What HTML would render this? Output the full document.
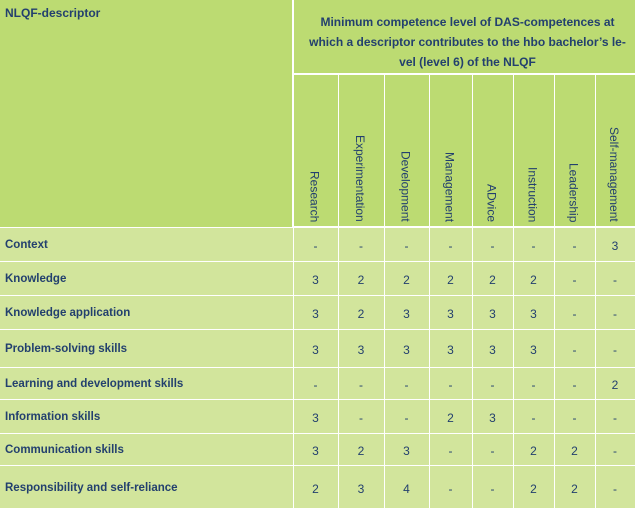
<!DOCTYPE html>
<html><head><style>
body{margin:0;width:635px;height:508px;background:#fff;position:relative;overflow:hidden;font-family:"Liberation Sans",sans-serif;color:#23406e}
.c{position:absolute;box-sizing:border-box}
.h{background:#bcdb72}
.b{background:#d2e59c}
.t{position:absolute;font-size:12px;white-space:nowrap}
.v{position:absolute;font-size:12px;white-space:nowrap;writing-mode:vertical-rl;bottom:0}
.n{position:absolute;font-size:12px;text-align:center}
.lab{position:absolute;left:5px;font-size:11.5px;font-weight:bold;white-space:nowrap}
</style></head><body>
<div id="g"></div>
<script>
const X=[0,293,338,384,429,472,513,554,595,635];
const Y=[227,261,295,329,367,399,433,465,508];
let h='';
function box(x,y,w,hh,cls){h+=`<div class="c ${cls}" style="left:${x}px;top:${y}px;width:${w}px;height:${hh}px"></div>`;}
box(0,0,292,227,'h');
box(294,0,341,73,'h');
for(let i=1;i<9;i++)box(X[i]+1,75,X[i+1]-X[i]-1,151,'h');
for(let r=0;r<8;r++){for(let i=0;i<9;i++){box(X[i]+(i?1:0),Y[r]+1,X[i+1]-X[i]-(i?1:0),Y[r+1]-Y[r]-1,'b');}}
h+=`<div class="t" style="left:5px;top:6px;font-weight:bold;font-size:12px">NLQF-descriptor</div>`;
h+=`<div class="t" style="left:300px;width:335px;top:12px;font-weight:bold;white-space:normal;line-height:20px;font-size:12px;text-align:center;box-sizing:border-box">Minimum competence level of DAS-competences at<br>which a descriptor contributes to the hbo bachelor’s le-<br>vel (level 6) of the NLQF</div>`;
const cols=["Research","Experimentation","Development","Management","ADvice","Instruction","Leadership","Self-management"];
for(let i=0;i<8;i++){const cx=(X[i+1]+X[i+2])/2;h+=`<div class="v" style="left:${cx-8}px;top:auto;bottom:${508-222}px;transform:none">${cols[i]}</div>`;}
const rows=[["Context",["-","-","-","-","-","-","-","3"]],
["Knowledge",["3","2","2","2","2","2","-","-"]],
["Knowledge application",["3","2","3","3","3","3","-","-"]],
["Problem-solving skills",["3","3","3","3","3","3","-","-"]],
["Learning and development skills",["-","-","-","-","-","-","-","2"]],
["Information skills",["3","-","-","2","3","-","-","-"]],
["Communication skills",["3","2","3","-","-","2","2","-"]],
["Responsibility and self-reliance",["2","3","4","-","-","2","2","-"]]];
for(let r=0;r<8;r++){const cy=(Y[r]+Y[r+1])/2+3;
h+=`<div class="lab" style="top:${cy-8}px">${rows[r][0]}</div>`;
for(let i=0;i<8;i++){h+=`<div class="n" style="left:${X[i+1]}px;width:${X[i+2]-X[i+1]}px;top:${cy-8}px">${rows[r][1][i]}</div>`;}}
document.getElementById('g').innerHTML=h;
</script>
</body></html>
